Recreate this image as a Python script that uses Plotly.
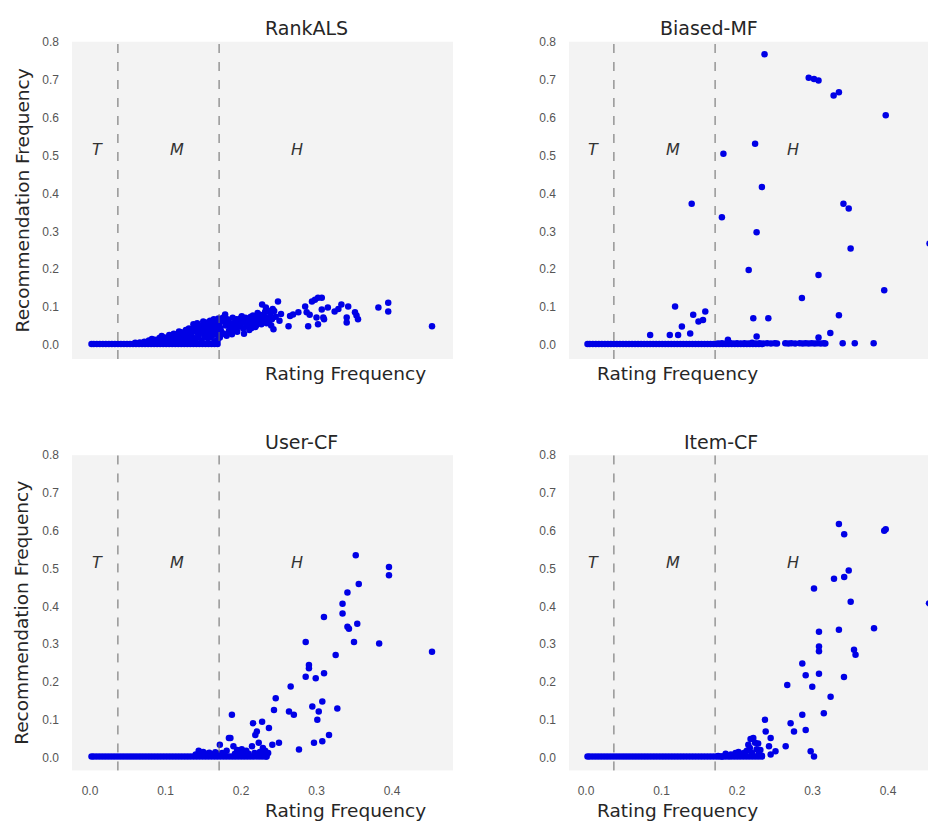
import plotly.graph_objects as go

# ---------------- data ----------------
# rating frequency of the long-tail items (shared dense band, x values)
tail_x = [0.002, 0.005, 0.009, 0.013, 0.017, 0.021, 0.025, 0.029, 0.033, 0.037,
          0.041, 0.045, 0.049, 0.053, 0.057, 0.061, 0.065, 0.069, 0.073, 0.077,
          0.081, 0.085, 0.089, 0.093, 0.097, 0.101, 0.105, 0.109, 0.113, 0.117,
          0.121, 0.125, 0.129, 0.133, 0.137, 0.141, 0.145, 0.149, 0.153, 0.157,
          0.161, 0.165, 0.169]
tail_y = [0.003] * len(tail_x)

# ---- RankALS ----
rankals_x = [0.060, 0.066, 0.072, 0.078, 0.082, 0.086, 0.090, 0.092, 0.095, 0.099,
             0.102, 0.105, 0.108, 0.111, 0.114, 0.118, 0.120, 0.121, 0.124, 0.127,
             0.130, 0.131, 0.134, 0.137, 0.139, 0.140, 0.142, 0.144, 0.146, 0.147,
             0.150, 0.151, 0.153, 0.155, 0.156, 0.158, 0.159, 0.161, 0.163, 0.164,
             0.166, 0.168, 0.169, 0.170,
             0.075, 0.080, 0.085, 0.088, 0.093, 0.097, 0.100, 0.104, 0.107, 0.110,
             0.113, 0.116, 0.119, 0.122, 0.123, 0.126, 0.128, 0.129, 0.132, 0.133,
             0.135, 0.136, 0.138, 0.141, 0.143, 0.145, 0.148, 0.149, 0.150, 0.152,
             0.154, 0.157, 0.157, 0.160, 0.160, 0.162, 0.163, 0.165, 0.167, 0.167,
             0.169, 0.170, 0.171,
             0.172, 0.173, 0.175, 0.177, 0.179, 0.180, 0.182, 0.184, 0.186, 0.188,
             0.189, 0.191, 0.193, 0.195, 0.197, 0.199, 0.201, 0.203, 0.205, 0.207,
             0.209, 0.211, 0.213, 0.215, 0.217, 0.219, 0.221, 0.223, 0.225, 0.228,
             0.230, 0.232, 0.233, 0.235, 0.237, 0.239, 0.241, 0.243, 0.244, 0.246,
             0.249, 0.251, 0.253,
             0.174, 0.176, 0.181, 0.183, 0.187, 0.190, 0.192, 0.194, 0.196, 0.200,
             0.202, 0.204, 0.206, 0.210, 0.212, 0.214, 0.216, 0.218, 0.220, 0.222,
             0.224, 0.227, 0.229, 0.231, 0.234, 0.236, 0.238, 0.240, 0.242,
             0.263, 0.265, 0.269, 0.276, 0.285, 0.287, 0.289, 0.291, 0.294, 0.298,
             0.300, 0.302, 0.302, 0.307, 0.307, 0.309, 0.310, 0.315, 0.324, 0.329,
             0.333, 0.342, 0.340, 0.340, 0.351, 0.353, 0.355, 0.382, 0.395, 0.395,
             0.453]
rankals_y = [0.006, 0.007, 0.009, 0.012, 0.016, 0.014, 0.010, 0.019, 0.024, 0.020,
             0.013, 0.027, 0.017, 0.030, 0.022, 0.036, 0.015, 0.034, 0.026, 0.040,
             0.020, 0.044, 0.030, 0.055, 0.012, 0.036, 0.058, 0.024, 0.052, 0.042,
             0.062, 0.030, 0.048, 0.060, 0.018, 0.038, 0.064, 0.052, 0.027, 0.068,
             0.044, 0.060, 0.012, 0.070,
             0.006, 0.007, 0.008, 0.009, 0.013, 0.011, 0.016, 0.009, 0.021, 0.012,
             0.025, 0.016, 0.028, 0.010, 0.020, 0.030, 0.015, 0.026, 0.034, 0.010,
             0.022, 0.038, 0.047, 0.018, 0.030, 0.044, 0.012, 0.036, 0.050, 0.022,
             0.040, 0.028, 0.054, 0.020, 0.044, 0.058, 0.035, 0.010, 0.030, 0.050,
             0.040, 0.022, 0.058,
             0.020, 0.045, 0.062, 0.030, 0.081, 0.052, 0.068, 0.038, 0.058, 0.029,
             0.072, 0.047, 0.063, 0.035, 0.055, 0.070, 0.076, 0.044, 0.060, 0.050,
             0.068, 0.040, 0.075, 0.057, 0.066, 0.048, 0.072, 0.060, 0.080, 0.107,
             0.066, 0.088, 0.099, 0.072, 0.060, 0.083, 0.068, 0.042, 0.090, 0.075,
             0.115, 0.064, 0.082,
             0.035, 0.072, 0.025, 0.060, 0.045, 0.055, 0.038, 0.068, 0.048, 0.058,
             0.066, 0.030, 0.072, 0.055, 0.062, 0.045, 0.078, 0.060, 0.052, 0.085,
             0.065, 0.055, 0.078, 0.075, 0.058, 0.090, 0.070, 0.052, 0.095,
             0.050, 0.077, 0.081, 0.087, 0.102, 0.087, 0.050, 0.080, 0.115, 0.120,
             0.073, 0.125, 0.055, 0.125, 0.094, 0.073, 0.068, 0.099, 0.089, 0.095,
             0.107, 0.102, 0.073, 0.060, 0.087, 0.078, 0.068, 0.099, 0.112, 0.089,
             0.050]

# ---- Biased-MF ----
biasedmf_x = [0.175, 0.180, 0.185, 0.190, 0.195, 0.200, 0.205, 0.210, 0.215, 0.220,
              0.225, 0.230, 0.235, 0.240, 0.245, 0.250, 0.253, 0.264, 0.268, 0.272,
              0.277, 0.283, 0.287, 0.291, 0.295, 0.299, 0.303, 0.307, 0.311, 0.315,
              0.317, 0.340, 0.356, 0.381,
              0.085, 0.111, 0.122, 0.127, 0.138, 0.118, 0.142, 0.149, 0.155, 0.158,
              0.140, 0.180, 0.182, 0.188, 0.2155, 0.2216, 0.224, 0.226, 0.226, 0.233,
              0.2365, 0.2415, 0.286, 0.295, 0.302, 0.308, 0.308, 0.308, 0.3236, 0.328,
              0.335, 0.335, 0.341, 0.348, 0.3505, 0.395, 0.397, 0.455]
biasedmf_y = [0.004, 0.005, 0.004, 0.006, 0.004, 0.005, 0.004, 0.005, 0.004, 0.006,
              0.004, 0.005, 0.004, 0.005, 0.004, 0.005, 0.004, 0.005, 0.004, 0.005,
              0.004, 0.005, 0.004, 0.005, 0.004, 0.005, 0.004, 0.005, 0.004, 0.005,
              0.004, 0.005, 0.005, 0.005,
              0.027, 0.027, 0.027, 0.049, 0.031, 0.102, 0.080, 0.062, 0.066, 0.089,
              0.373, 0.337, 0.505, 0.014, 0.198, 0.071, 0.531, 0.298, 0.023, 0.417,
              0.767, 0.071, 0.124, 0.705, 0.702, 0.698, 0.185, 0.020, 0.032, 0.658,
              0.667, 0.079, 0.373, 0.360, 0.255, 0.145, 0.606, 0.268]

# ---- User-CF ----
usercf_x = [0.140, 0.144, 0.147, 0.150, 0.154, 0.158, 0.162, 0.166, 0.170,
            0.172, 0.175, 0.178, 0.181, 0.184, 0.186, 0.188, 0.190, 0.192, 0.195,
            0.198, 0.201, 0.204, 0.207, 0.210, 0.2146, 0.216, 0.218, 0.219, 0.221,
            0.2235, 0.225, 0.228, 0.229, 0.231, 0.232, 0.234, 0.236, 0.237, 0.2415,
            0.2437, 0.246, 0.2503, 0.2636, 0.2658, 0.270, 0.2768, 0.2857, 0.2857, 0.290,
            0.290, 0.2945, 0.2967, 0.299, 0.3011, 0.303, 0.3077, 0.3077, 0.3099, 0.310,
            0.3166, 0.3254, 0.3276, 0.3345, 0.3345, 0.341, 0.341, 0.343, 0.3497, 0.352,
            0.354, 0.356, 0.383, 0.396, 0.396, 0.453]
usercf_y = [0.008, 0.018, 0.012, 0.015, 0.010, 0.013, 0.009, 0.014, 0.010,
            0.034, 0.012, 0.008, 0.018, 0.052, 0.052, 0.113, 0.030, 0.010, 0.020,
            0.015, 0.022, 0.012, 0.018, 0.010, 0.030, 0.091, 0.012, 0.060, 0.069,
            0.039, 0.015, 0.095, 0.025, 0.008, 0.018, 0.003, 0.012, 0.078, 0.034,
            0.126, 0.157, 0.039, 0.122, 0.188, 0.113, 0.021, 0.306, 0.214, 0.245,
            0.236, 0.135, 0.039, 0.210, 0.100, 0.122, 0.148, 0.043, 0.372, 0.223,
            0.060, 0.271, 0.130, 0.407, 0.381, 0.437, 0.346, 0.341, 0.306, 0.535,
            0.354, 0.459, 0.302, 0.504, 0.482, 0.280]

# ---- Item-CF ----
itemcf_x = [0.175, 0.180, 0.185, 0.190, 0.192, 0.198, 0.202, 0.206, 0.210, 0.213,
            0.215, 0.217, 0.218, 0.2216, 0.220, 0.224, 0.226, 0.228, 0.229, 0.231,
            0.233, 0.237, 0.238, 0.2424, 0.2446, 0.2446, 0.251, 0.2645, 0.2666, 0.271,
            0.2755, 0.2865, 0.2865, 0.291, 0.291, 0.2976, 0.2997, 0.302, 0.302, 0.3086,
            0.3086, 0.3086, 0.3086, 0.315, 0.324, 0.3285, 0.335, 0.335, 0.342, 0.342,
            0.3417, 0.348, 0.3506, 0.355, 0.357, 0.3815, 0.395, 0.397, 0.4543]
itemcf_y = [0.004, 0.003, 0.010, 0.004, 0.008, 0.012, 0.015, 0.010, 0.013, 0.018,
            0.034, 0.025, 0.049, 0.052, 0.012, 0.039, 0.022, 0.037, 0.010, 0.020,
            0.005, 0.100, 0.069, 0.030, 0.052, 0.008, 0.017, 0.030, 0.192, 0.091,
            0.069, 0.249, 0.113, 0.218, 0.073, 0.017, 0.187, 0.447, 0.003, 0.333,
            0.294, 0.281, 0.222, 0.117, 0.161, 0.473, 0.618, 0.338, 0.591, 0.478,
            0.213, 0.495, 0.412, 0.285, 0.272, 0.342, 0.600, 0.604, 0.408]

# extra long-tail band points beyond the M/H boundary
band_ext_x = [0.173, 0.177, 0.181, 0.185, 0.189, 0.193, 0.197, 0.201, 0.205, 0.209,
              0.213, 0.217, 0.221, 0.225, 0.229, 0.233]
band_ext_y = [0.003] * len(band_ext_x)

titles = ["RankALS", "Biased-MF", "User-CF", "Item-CF"]
region_labels = ["T", "M", "H"]
region_label_x = [0.010, 0.115, 0.274]
region_label_y = 0.517
boundaries = [0.037, 0.171]
y_ticks = [0.0, 0.1, 0.2, 0.3, 0.4, 0.5, 0.6, 0.7, 0.8]
x_ticks = [0.0, 0.1, 0.2, 0.3, 0.4]

# ---------------- layout geometry ----------------
# figure sits inside the page's 8 px body margin and fills the rest exactly
OFF = 8
W, H = 928, 813
def px_x(p): return (p - OFF) / W
def px_y(p): return (H - (p - OFF)) / H

panels = [
    dict(name="x", yname="y", xd=[px_x(72), px_x(453)], yd=[px_y(355), px_y(35)],
         xr=[-0.0238, 0.4808], yr=[-0.0366, 0.8], bottom=False, left=True),
    dict(name="x2", yname="y2", xd=[px_x(569), 1.0], yd=[px_y(355), px_y(35)],
         xr=[-0.0225, 0.4636], yr=[-0.0366, 0.8], bottom=False, left=False),
    dict(name="x3", yname="y3", xd=[px_x(72), px_x(453)], yd=[px_y(770), px_y(452)],
         xr=[-0.0238, 0.4808], yr=[-0.0341, 0.8], bottom=True, left=True),
    dict(name="x4", yname="y4", xd=[px_x(569), 1.0], yd=[px_y(770), px_y(452)],
         xr=[-0.0225, 0.4636], yr=[-0.0341, 0.8], bottom=True, left=False),
]
panel_left_px = [72, 569, 72, 569]
panel_top_px = [35, 35, 452, 452]
panel_bot_px = [355, 355, 770, 770]

data_sets = [
    (tail_x + rankals_x, tail_y + rankals_y),
    (tail_x + band_ext_x + biasedmf_x, tail_y + band_ext_y + biasedmf_y),
    (tail_x + band_ext_x + usercf_x, tail_y + band_ext_y + usercf_y),
    (tail_x + band_ext_x + itemcf_x, tail_y + band_ext_y + itemcf_y),
]

fig = go.Figure()
TEXT = "#262626"
FONT = "DejaVu Sans"

for i, (p, (xs, ys)) in enumerate(zip(panels, data_sets)):
    fig.add_trace(go.Scatter(
        x=xs, y=ys, mode="markers", xaxis=p["name"], yaxis=p["yname"],
        marker=dict(size=6.5, color="#0000e6", line=dict(width=0)),
        showlegend=False, hoverinfo="x+y"))

    ax_key = "xaxis" + p["name"][1:]
    ay_key = "yaxis" + p["yname"][1:]
    fig.update_layout({
        ax_key: dict(domain=p["xd"], range=p["xr"], anchor=p["yname"],
                     showgrid=False, zeroline=False, showline=False, ticks="",
                     tickvals=x_ticks, tickformat=".1f",
                     showticklabels=p["bottom"], ticklabelstandoff=12,
                     tickfont=dict(family="Liberation Sans", size=12, color="#555555")),
        ay_key: dict(domain=p["yd"], range=p["yr"], anchor=p["name"],
                     showgrid=False, zeroline=False, showline=False, ticks="",
                     tickvals=y_ticks, tickformat=".1f", ticklabelstandoff=12,
                     tickfont=dict(family="Liberation Sans", size=12, color="#555555")),
    })

    for b in boundaries:
        fig.add_shape(type="line", xref=p["name"], yref=p["yname"] + " domain",
                      x0=b, x1=b, y0=0, y1=1,
                      line=dict(color="#666666", width=1, dash="dash"))

    for lab, lx in zip(region_labels, region_label_x):
        fig.add_annotation(x=lx, y=region_label_y, xref=p["name"], yref=p["yname"],
                           text="<i>" + lab + "</i>", showarrow=False,
                           font=dict(family=FONT, size=16, color="#333333"))

    # panel title (centered on the full axes width of 381 px)
    cx = px_x(panel_left_px[i] + 381 / 2)
    fig.add_annotation(x=cx, y=px_y(panel_top_px[i] - 13.5), xref="paper", yref="paper",
                       text=titles[i], showarrow=False, yanchor="middle",
                       font=dict(family=FONT, size=19, color=TEXT))
    # x axis title
    off = 40 if p["bottom"] else 15
    fig.add_annotation(x=cx, y=px_y(panel_bot_px[i] + off), xref="paper", yref="paper",
                       text="Rating Frequency", showarrow=False, yanchor="middle",
                       font=dict(family=FONT, size=18.5, color=TEXT))
    # y axis title
    if p["left"]:
        fig.add_annotation(x=px_x(22), y=px_y((panel_top_px[i] + panel_bot_px[i]) / 2),
                           xref="paper", yref="paper", textangle=-90,
                           text="Recommendation Frequency", showarrow=False,
                           xanchor="center", yanchor="middle",
                           font=dict(family=FONT, size=18.5, color=TEXT))

fig.update_layout(
    width=W, height=H,
    margin=dict(l=0, r=0, t=0, b=0),
    paper_bgcolor="white",
    plot_bgcolor="#f3f3f3",
    font=dict(family=FONT, color=TEXT),
)

fig.write_html("out.html")
